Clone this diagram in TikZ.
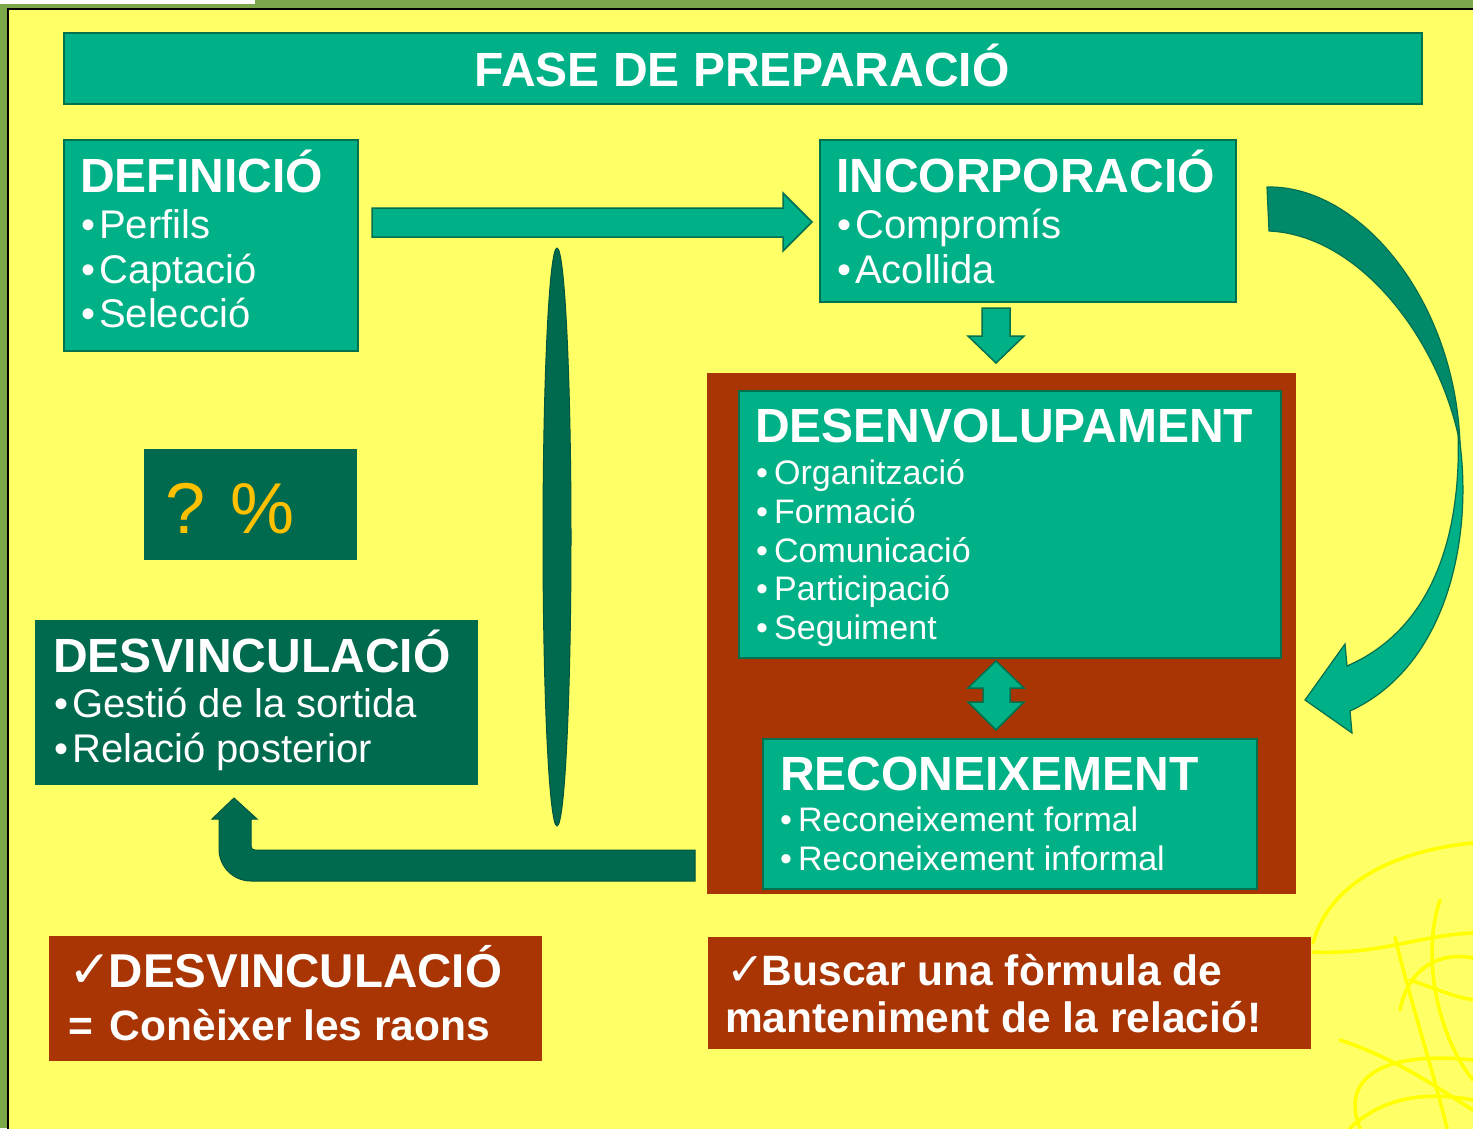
\documentclass[tikz,border=0pt]{standalone}
\usepackage{fontspec}
\setmainfont{Liberation Sans}
\newfontfamily\symf{DejaVu Sans}
\definecolor{frame}{HTML}{7DA74B}
\definecolor{yel}{HTML}{FFFF66}
\definecolor{scrib}{HTML}{FFFF00}
\definecolor{teal}{HTML}{00B087}
\definecolor{tealline}{HTML}{00704F}
\definecolor{dkgreen}{HTML}{006A4E}
\definecolor{midgreen}{HTML}{008A6A}
\definecolor{brown}{HTML}{A83503}
\definecolor{gold}{HTML}{FFC000}
\begin{document}
\begin{tikzpicture}[x=1pt,y=-1pt,
  gbox/.style={draw=tealline,line width=1.8pt,fill=teal,anchor=north west,inner sep=0pt},
  dbox/.style={fill=dkgreen,anchor=north west,inner sep=0pt},
  rbox/.style={fill=brown,anchor=north west,inner sep=0pt},
  blockarrow/.style={draw=tealline,line width=1.5pt,fill=teal,line join=miter},
  darkarrow/.style={draw=dkgreen!80!black,line width=1pt,fill=dkgreen},
  ttl/.style={anchor=base west,inner sep=0pt,text=white,font=\fontsize{48}{56}\selectfont\bfseries},
  itm/.style={anchor=base west,inner sep=0pt,text=white,font=\fontsize{40}{45}\selectfont},
  itms/.style={anchor=base west,inner sep=0pt,text=white,font=\fontsize{34}{39}\selectfont},
  note/.style={anchor=base west,inner sep=0pt,text=white,font=\fontsize{42.5}{48}\selectfont\bfseries},
  scribble/.style={draw=scrib,line width=3.5pt,line cap=round}
]
\useasboundingbox (0,0) rectangle (1473,1128);
% background
\fill[frame] (0,0) rectangle (1473,1128);
\fill[white] (0,0) rectangle (255,4);
\fill[yel] (8,9) rectangle (1480,1135);
\draw[black,line width=1.5pt] (8,1135) -- (8,9) -- (1480,9);
% scribbles
\begin{scope}
\clip (9,10) rectangle (1473,1128);
\draw[scribble] (1313,943) .. controls (1330,880) and (1400,850) .. (1473,843);
\draw[scribble] (1313,952) .. controls (1380,955) and (1420,935) .. (1473,933);
\draw[scribble] (1395,937) .. controls (1410,1000) and (1430,1060) .. (1447,1128);
\draw[scribble] (1340,1040) .. controls (1400,1060) and (1440,1090) .. (1473,1110);
\draw[scribble] (1400,1010) .. controls (1410,960) and (1450,950) .. (1480,960);
\draw[scribble] (1360,1128) .. controls (1340,1080) and (1380,1050) .. (1473,1060);
\draw[scribble] (1410,980) .. controls (1440,990) and (1460,1000) .. (1480,1000);
\draw[scribble] (1440,900) .. controls (1420,960) and (1440,1040) .. (1473,1080);
\draw[scribble] (1350,1128) .. controls (1380,1100) and (1420,1090) .. (1473,1100);
\end{scope}
% title bar
\node[gbox,minimum width=1358,minimum height=71] (title) at (63,32) {};
\node[anchor=base,inner sep=0pt,text=white,font=\fontsize{48}{56}\selectfont\bfseries] (titletxt) at (742,86) {FASE DE PREPARACIÓ};
% DEFINICIO
\node[gbox,minimum width=294,minimum height=211] (def) at (63,139) {};
\node[ttl] (defT) at (80,192) {DEFINICIÓ};
\node[itm] (def1) at (81,238) {\makebox[18pt][l]{•}Perfils};
\node[itm] (def2) at (81,283) {\makebox[18pt][l]{•}Captació};
\node[itm] (def3) at (81,327) {\makebox[18pt][l]{•}Selecció};
% INCORPORACIO
\node[gbox,minimum width=416,minimum height=162] (inc) at (819,139) {};
\node[ttl] (incT) at (836,192) {INCORPORACIÓ};
\node[itm] (inc1) at (837,238) {\makebox[18pt][l]{•}Compromís};
\node[itm] (inc2) at (837,283) {\makebox[18pt][l]{•}Acollida};
% right arrow
\draw[blockarrow] (372,208) -- (783,208) -- (783,193) -- (812,222) -- (783,251) -- (783,237) -- (372,237) -- cycle;
% down arrow
\draw[blockarrow] (982,308) -- (1010,308) -- (1010,336) -- (1024,336) -- (996,363) -- (968,336) -- (982,336) -- cycle;
% brown panel
\node[rbox,minimum width=589,minimum height=521] (panel) at (707,373) {};
% DESENVOLUPAMENT
\node[gbox,minimum width=542,minimum height=267] (des) at (738,390) {};
\node[ttl] (desT) at (755,442) {DESENVOLUPAMENT};
\node[itms] (des1) at (756,484) {\makebox[18pt][l]{•}Organització};
\node[itms] (des2) at (756,523) {\makebox[18pt][l]{•}Formació};
\node[itms] (des3) at (756,562) {\makebox[18pt][l]{•}Comunicació};
\node[itms] (des4) at (756,600) {\makebox[18pt][l]{•}Participació};
\node[itms] (des5) at (756,639) {\makebox[18pt][l]{•}Seguiment};
% double arrow
\draw[blockarrow] (996,661) -- (1024,688) -- (1010,688) -- (1010,702) -- (1024,702) -- (996,730) -- (968,702) -- (983,702) -- (983,688) -- (968,688) -- cycle;
% RECONEIXEMENT
\node[gbox,minimum width=494,minimum height=150] (rec) at (762,738) {};
\node[ttl] (recT) at (780,790) {RECONEIXEMENT};
\node[itms] (rec1) at (780,831) {\makebox[18pt][l]{•}Reconeixement formal};
\node[itms] (rec2) at (780,870) {\makebox[18pt][l]{•}Reconeixement informal};
% curved arrow
\draw[draw=tealline,line width=1.2pt,fill=midgreen,line join=round]
  (1267,187) .. controls (1360,185) and (1455,300) .. (1460,444)
  .. controls (1440,340) and (1360,235) .. (1269,231) -- cycle;
\draw[draw=tealline,line width=1.2pt,fill=teal,line join=miter]
  (1458,430) .. controls (1475,530) and (1450,665) .. (1350,711)
  -- (1352,733) -- (1305,700) -- (1345,644) -- (1347,666)
  .. controls (1430,630) and (1462,540) .. (1458,430) -- cycle;
% vertical lens
\draw[darkarrow] (557,537) ellipse [x radius=14, y radius=289];
% ? % box
\node[dbox,minimum width=213,minimum height=111] (pct) at (144,449) {};
\node[anchor=base west,inner sep=0pt,text=gold,font=\fontsize{72}{80}\selectfont] (pctT) at (165,533) {?\hspace{25pt}\%};
% DESVINCULACIO
\node[dbox,minimum width=443,minimum height=165] (dsv) at (35,620) {};
\node[ttl] (dsvT) at (53,672) {DESVINCULACIÓ};
\node[itm] (dsv1) at (54,717) {\makebox[18pt][l]{•}Gestió de la sortida};
\node[itm] (dsv2) at (54,762) {\makebox[18pt][l]{•}Relació posterior};
% bent arrow
\draw[darkarrow,line join=miter] (695,850) -- (255,850) .. controls (252.5,850) and (251,848.5) .. (251,846)
  -- (251,819) -- (257,819) -- (234,798) -- (212,819) -- (219,819) -- (219,849)
  .. controls (219,866.7) and (233.3,881) .. (251,881) -- (695,881) -- cycle;
% bottom notes
\node[rbox,minimum width=493,minimum height=125] (note1) at (49,936) {};
\node[note,font=\fontsize{47.5}{52}\selectfont\bfseries] (note1a) at (68,987) {{\symf\mdseries\fontsize{52}{52}\selectfont ✓}\hspace{-3pt}DESVINCULACIÓ};
\node[note] (note1b) at (68,1040) {= \hspace{5pt}Conèixer les raons};
\node[rbox,minimum width=603,minimum height=112] (note2) at (708,937) {};
\node[note] (note2a) at (726,985) {{\symf\mdseries\fontsize{46}{46}\selectfont ✓}\hspace{-3pt}Buscar una fòrmula de};
\node[note] (note2b) at (725,1032) {manteniment de la relació!};
\end{tikzpicture}
\end{document}
